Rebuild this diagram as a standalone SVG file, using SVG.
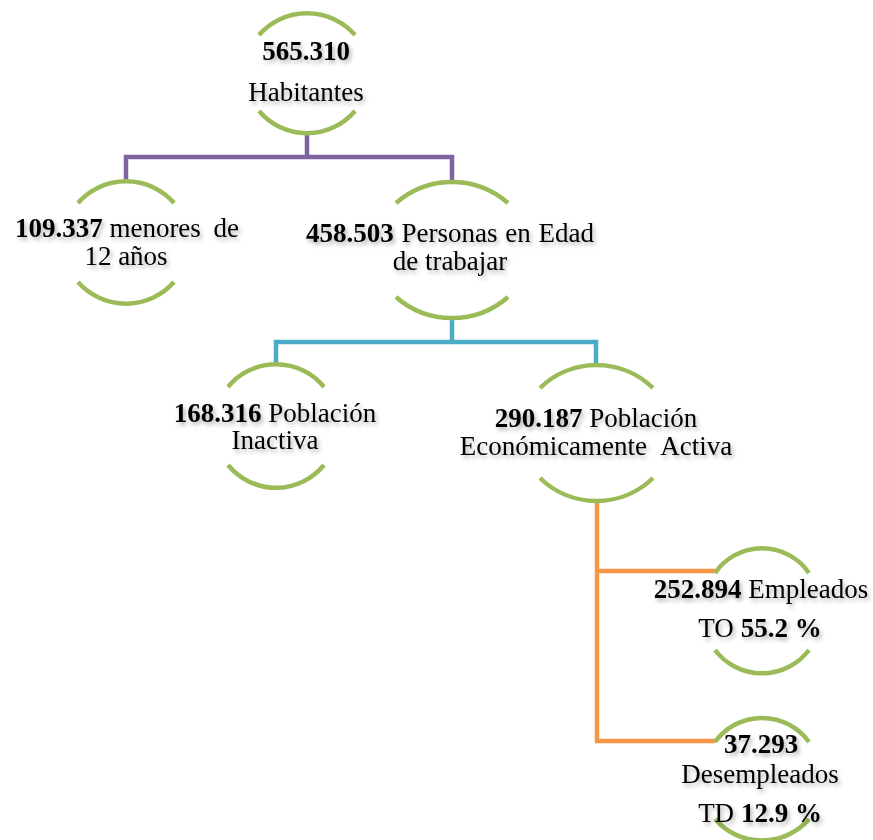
<svg xmlns="http://www.w3.org/2000/svg" width="873" height="840" viewBox="0 0 873 840">
<defs>
<filter id="sh" x="-10%" y="-30%" width="130%" height="180%">
<feDropShadow dx="2" dy="3" stdDeviation="2.2" flood-color="#000" flood-opacity="0.3"/>
</filter>
</defs>
<style>
.arc{fill:none;stroke:#9BBB59;stroke-width:4.5}
.t{font-family:"Liberation Serif","Times New Roman",serif;font-size:27px;fill:#000;text-anchor:middle;filter:url(#sh)}
.b{font-weight:bold}
.c{fill:none;stroke-width:4.5;stroke-linejoin:miter}
</style>
<rect width="873" height="840" fill="#fff"/>
<g id="connectors">
<path class="c" stroke="#8064A2" d="M307 133 V157 M126 182 V157 H452 V182"/>
<path class="c" stroke="#4BACC6" d="M452 318 V342 M276 364 V342 H596 V365"/>
<path class="c" stroke="#F79646" d="M597 501 V741 H715 M597 571 H715"/>
</g>
<g id="n1">
<path class="arc" d="M259 35 A64 64 0 0 1 355 35"/>
<path class="arc" d="M259 111 A63 63 0 0 0 355 111"/>
<text class="t" x="306" y="60"><tspan class="b">565.310</tspan></text>
<text class="t" x="306" y="101">Habitantes</text>
</g>
<g id="n2">
<path class="arc" d="M78 203 A64 64 0 0 1 174 203"/>
<path class="arc" d="M78 282 A64 64 0 0 0 174 282"/>
<text class="t" x="127" y="237"><tspan class="b">109.337</tspan> menores <tspan dx="6">de</tspan></text>
<text class="t" x="126" y="265">12 años</text>
</g>
<g id="n3">
<path class="arc" d="M396 203 A85 85 0 0 1 508 203"/>
<path class="arc" d="M396 297 A85 85 0 0 0 508 297"/>
<text class="t" x="450" y="242" word-spacing="1"><tspan class="b">458.503</tspan> Personas en Edad</text>
<text class="t" x="450" y="270">de trabajar</text>
</g>
<g id="n4">
<path class="arc" d="M228 387 A62 62 0 0 1 324 387"/>
<path class="arc" d="M228 465 A62 62 0 0 0 324 465"/>
<text class="t" x="275" y="422"><tspan class="b">168.316</tspan> Población</text>
<text class="t" x="275" y="449">Inactiva</text>
</g>
<g id="n5">
<path class="arc" d="M540 388 A81 81 0 0 1 653 388"/>
<path class="arc" d="M540 478 A81 81 0 0 0 653 478"/>
<text class="t" x="596" y="427"><tspan class="b">290.187</tspan> Población</text>
<text class="t" x="596" y="455">Económicamente <tspan dx="8">Activa</tspan></text>
</g>
<g id="n6">
<path class="arc" d="M715 573 A57 57 0 0 1 809 573"/>
<path class="arc" d="M715 650 A59 59 0 0 0 809 650"/>
<text class="t" x="761" y="598"><tspan class="b">252.894</tspan> Empleados</text>
<text class="t" x="760" y="637">TO <tspan class="b">55.2 %</tspan></text>
</g>
<g id="n7">
<path class="arc" d="M715 742 A58 58 0 0 1 809 742"/>
<path class="arc" d="M715 819 A62 62 0 0 0 809 819"/>
<text class="t" x="761" y="753"><tspan class="b">37.293</tspan></text>
<text class="t" x="760" y="783">Desempleados</text>
<text class="t" x="760" y="822">TD <tspan class="b">12.9 %</tspan></text>
</g>
</svg>
